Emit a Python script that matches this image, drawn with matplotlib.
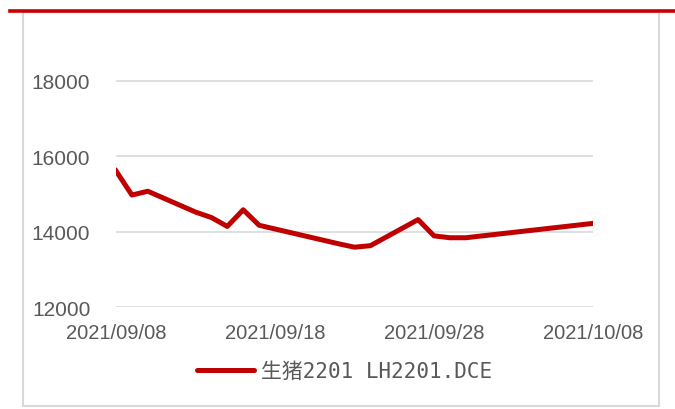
import datetime as dt
import matplotlib
matplotlib.use("Agg")
import matplotlib.pyplot as plt
import matplotlib.dates as mdates
from matplotlib.lines import Line2D
from matplotlib.patches import Rectangle

# trading days and settlement prices of LH2201
dates = ["2021-09-08", "2021-09-09", "2021-09-10", "2021-09-13", "2021-09-14",
         "2021-09-15", "2021-09-16", "2021-09-17", "2021-09-22", "2021-09-23",
         "2021-09-24", "2021-09-27", "2021-09-28", "2021-09-29", "2021-09-30",
         "2021-10-08"]
prices = [15610, 14970, 15070, 14520, 14375,
          14140, 14580, 14170, 13680, 13590,
          13630, 14320, 13890, 13840, 13840,
          14220]
tick_dates = ["2021-09-08", "2021-09-18", "2021-09-28", "2021-10-08"]
y_ticks = [12000, 14000, 16000, 18000]
series_name = "生猪2201 LH2201.DCE"

x = [dt.datetime.strptime(d, "%Y-%m-%d") for d in dates]
xt = [dt.datetime.strptime(d, "%Y-%m-%d") for d in tick_dates]

W, H = 675, 410
fig = plt.figure(figsize=(W / 100, H / 100), dpi=100)
ax = fig.add_axes([116 / W, (H - 308.3) / H, (593 - 116) / W, (308.3 - 43.7) / H])

ax.plot(x, prices, color="#C00000", linewidth=3.6, solid_joinstyle="round",
        label=series_name)

ax.set_xlim(xt[0], xt[-1])
ax.set_ylim(12000, 19000)
ax.set_xticks(xt)
ax.xaxis.set_major_formatter(mdates.DateFormatter("%Y/%m/%d"))
ax.set_yticks(y_ticks)
ax.yaxis.grid(True, color="#D9D9D9", linewidth=1.2)
ax.set_axisbelow(True)
for s in ax.spines.values():
    s.set_visible(False)
ax.tick_params(axis="both", length=0, labelcolor="#595959")
ax.tick_params(axis="y", pad=18.5, labelsize=15)
ax.tick_params(axis="x", pad=11, labelsize=14.5)
for lab in ax.get_xticklabels() + ax.get_yticklabels():
    lab.set_family(["Liberation Sans", "DejaVu Sans"])

leg = ax.legend(loc="center", bbox_to_anchor=(344.5 / W, (H - 372) / H),
                bbox_transform=fig.transFigure, frameon=False,
                handlelength=2.75, handletextpad=0.3, borderaxespad=0,
                prop={"family": ["DejaVu Sans Mono", "Noto Sans CJK SC"], "size": 15})
for t in leg.get_texts():
    t.set_color("#595959")
for h in leg.get_lines():
    h.set_solid_capstyle("round")

# outer grey frame and red top rule
fig.add_artist(Rectangle((23 / W, (H - 407) / H), (659 - 23) / W, (407 - 13) / H,
                         transform=fig.transFigure, fill=False,
                         edgecolor="#D9D9D9", linewidth=1.5))
fig.add_artist(Line2D([10 / W, 1.0], [(H - 11.5) / H] * 2, transform=fig.transFigure,
                      color="#CC0000", linewidth=2.6))

fig.savefig("out.png", dpi=100)
